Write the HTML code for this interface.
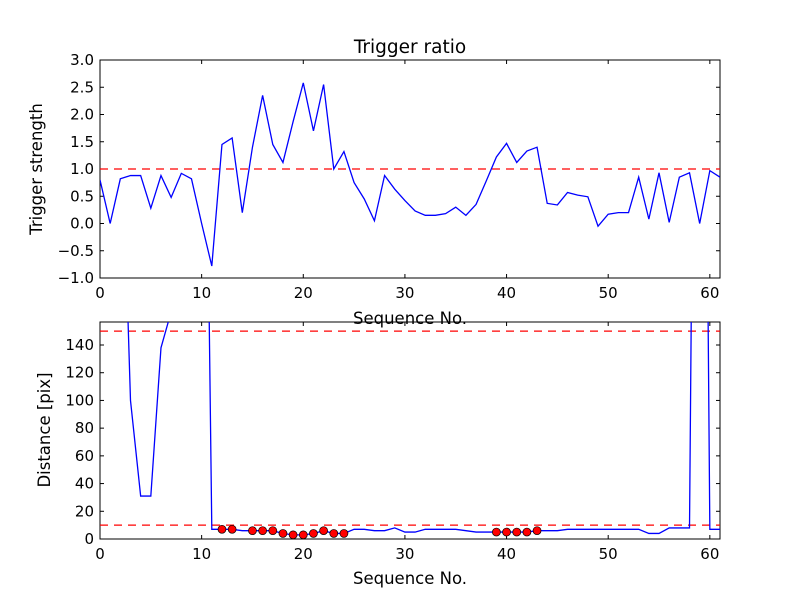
<!DOCTYPE html>
<html><head><meta charset="utf-8"><style>
body{margin:0;background:#fff}
svg{display:block;font-family:"DejaVu Sans","Liberation Sans",sans-serif}
</style></head><body>
<svg id="c" width="800" height="600"></svg>
<script>
const xs1 = Array.from({length:62},(_,i)=>i);
const strength = [0.8,0.0,0.82,0.88,0.88,0.28,0.88,0.48,0.92,0.82,0.0,-0.78,1.45,1.57,0.2,1.4,2.35,1.45,1.12,1.87,2.58,1.7,2.55,1.0,1.32,0.75,0.45,0.05,0.88,0.63,0.42,0.23,0.15,0.15,0.18,0.3,0.15,0.35,0.78,1.22,1.47,1.12,1.33,1.4,0.37,0.34,0.57,0.52,0.49,-0.05,0.17,0.2,0.2,0.85,0.08,0.93,0.02,0.85,0.93,0.0,0.97,0.85];
const distance = [500,500,337,100,31,31,138,164,400,400,600,7,7,7,6,6,6,6,4,3,3,4,6,4,4,7,7,6,6,8,5,5,7,7,7,7,6,5,5,5,5,5,5,6,6,6,7,7,7,7,7,7,7,7,4,4,8,8,8,900,7,7];
const markIdx = [12,13,15,16,17,18,19,20,21,22,23,24,39,40,41,42,43];
const xTicks = [0,10,20,30,40,50,60];
const yTicks1 = [-1.0,-0.5,0.0,0.5,1.0,1.5,2.0,2.5,3.0];
const yTicks2 = [0,20,40,60,80,100,120,140];
const NS="http://www.w3.org/2000/svg";
const svg=document.getElementById('c');
function mk(t,a,p){const e=document.createElementNS(NS,t);for(const k in a)e.setAttribute(k,a[k]);(p||svg).appendChild(e);return e;}
const L=100,R=720;
const sx=v=>L+(v-0)/(61-0)*(R-L);
function panel(top,bot,ymin,ymax,yt,fmt,name){
  const sy=v=>bot-(v-ymin)/(ymax-ymin)*(bot-top);
  const g=mk('g',{});
  
  
  const cp=mk('clipPath',{id:'cp'+name},g);
  mk('rect',{x:L,y:top,width:R-L,height:bot-top},cp);
  xTicks.forEach(t=>{const x=sx(t);
    mk('line',{x1:x,x2:x,y1:bot,y2:bot-4,stroke:'#000'},g);
    mk('line',{x1:x,x2:x,y1:top,y2:top+4,stroke:'#000'},g);
    const tx=mk('text',{x:x,y:bot+20,'text-anchor':'middle','font-size':15},g);tx.textContent=t;
    
    });
  yt.forEach(t=>{const y=sy(t);
    mk('line',{x1:L,x2:L+4,y1:y,y2:y,stroke:'#000'},g);
    mk('line',{x1:R,x2:R-4,y1:y,y2:y,stroke:'#000'},g);
    const tx=mk('text',{x:L-6,y:y+5,'text-anchor':'end','font-size':15},g);tx.textContent=fmt(t);
    
    });
  mk('rect',{x:L,y:top,width:R-L,height:bot-top,fill:'none',stroke:'#000'},g);
  return {sy,g,clip:'url(#cp'+name+')'};
}
const p1=panel(60,278,-1,3,yTicks1,v=>v.toFixed(1).replace('-','\u2212'),'top-panel');
const th1=mk('line',{x1:L,x2:R,y1:p1.sy(1),y2:p1.sy(1),stroke:'red','stroke-dasharray':'8,6','stroke-width':1.3,'clip-path':p1.clip});


const l1=mk('polyline',{points:strength.map((v,i)=>sx(xs1[i])+','+p1.sy(v)).join(' '),fill:'none',stroke:'#0000ff','stroke-width':1.3,'clip-path':p1.clip});


let t=mk('text',{x:410,y:53,'text-anchor':'middle','font-size':18.5});t.textContent='Trigger ratio';


t=mk('text',{x:42,y:169,'text-anchor':'middle','font-size':16.5,transform:'rotate(-90 42 169)'});t.textContent='Trigger strength';


t=mk('text',{x:410,y:324,'text-anchor':'middle','font-size':16.5});t.textContent='Sequence No.';


const p2=panel(322,539,0,156.6,yTicks2,v=>v,'bottom-panel');
[150,10].forEach(v=>{const e=mk('line',{x1:L,x2:R,y1:p2.sy(v),y2:p2.sy(v),stroke:'red','stroke-dasharray':'8,6','stroke-width':1.3});

});
const l2=mk('polyline',{points:distance.map((v,i)=>sx(xs1[i])+','+p2.sy(v)).join(' '),fill:'none',stroke:'#0000ff','stroke-width':1.3,'clip-path':p2.clip});


markIdx.forEach(i=>{const c=mk('circle',{cx:sx(xs1[i]),cy:p2.sy(distance[i]),r:4,fill:'red',stroke:'#000','stroke-width':0.7});

});
t=mk('text',{x:50,y:430,'text-anchor':'middle','font-size':16.5,transform:'rotate(-90 50 430)'});t.textContent='Distance [pix]';


t=mk('text',{x:410,y:584,'text-anchor':'middle','font-size':16.5});t.textContent='Sequence No.';


</script>
</body></html>
